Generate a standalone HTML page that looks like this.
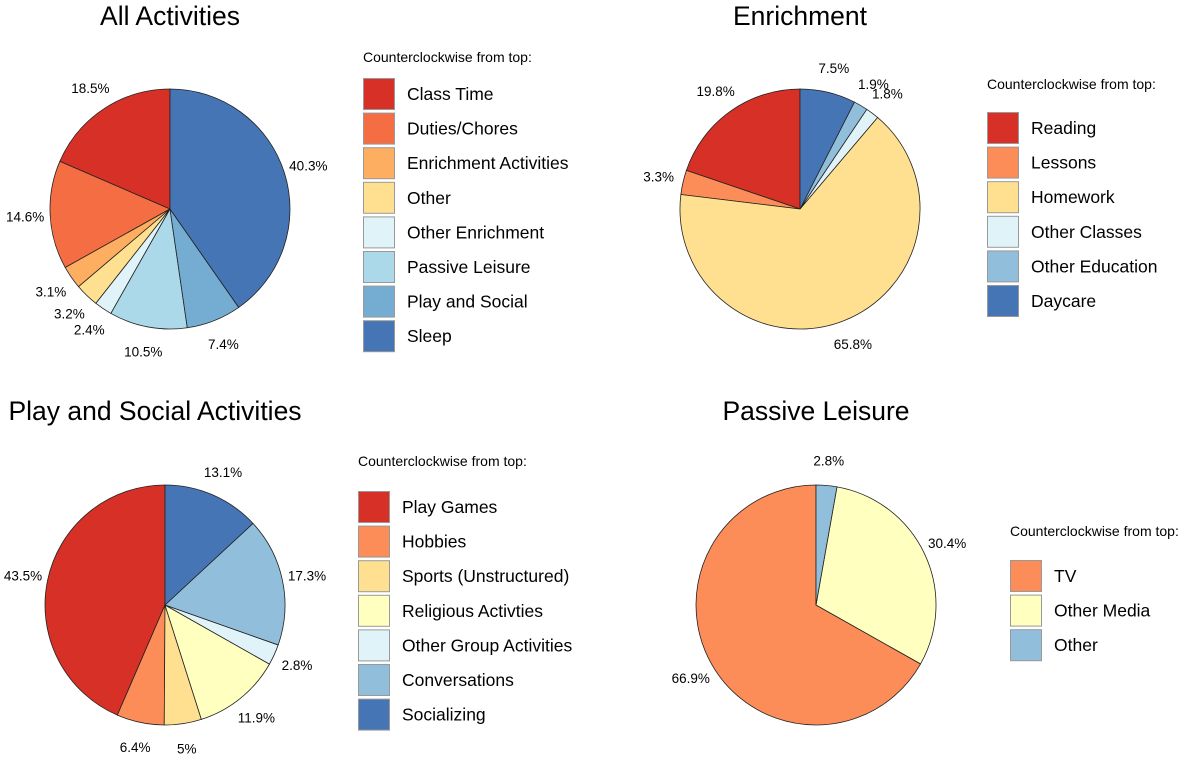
<!DOCTYPE html>
<html><head><meta charset="utf-8"><style>
body{margin:0;background:#fff;width:1194px;height:762px;overflow:hidden;font-family:"Liberation Sans",sans-serif}
svg{display:block}
</style></head><body>
<svg id="c" width="1194" height="762"></svg>
<script>
const allCats=["Class Time","Duties/Chores","Enrichment Activities","Other","Other Enrichment","Passive Leisure","Play and Social","Sleep"];
const allVals=[18.5,14.6,3.1,3.2,2.4,10.5,7.4,40.3];
const allLabels=["18.5%","14.6%","3.1%","3.2%","2.4%","10.5%","7.4%","40.3%"];
const enrCats=["Reading","Lessons","Homework","Other Classes","Other Education","Daycare"];
const enrVals=[19.8,3.3,65.8,1.8,1.9,7.5];
const enrLabels=["19.8%","3.3%","65.8%","1.8%","1.9%","7.5%"];
const playCats=["Play Games","Hobbies","Sports (Unstructured)","Religious Activties","Other Group Activities","Conversations","Socializing"];
const playVals=[43.5,6.4,5,11.9,2.8,17.3,13.1];
const playLabels=["43.5%","6.4%","5%","11.9%","2.8%","17.3%","13.1%"];
const pasCats=["TV","Other Media","Other"];
const pasVals=[66.9,30.4,2.8];
const pasLabels=["66.9%","30.4%","2.8%"];

const NS="http://www.w3.org/2000/svg";
const svg=document.getElementById('c');
function mk(t,a,p){const e=document.createElementNS(NS,t);for(const k in a)e.setAttribute(k,a[k]);(p||svg).appendChild(e);return e;}
const panels=[
 {title:"All Activities",tx:170,ty:25,cx:170,cy:209,cats:allCats,vals:allVals,labels:allLabels,
  cols:["#d73027","#f46d43","#fdae61","#fee090","#e0f3f8","#abd9e9","#74add1","#4575b4"],lx:363,ly:62,by:78},
 {title:"Enrichment",tx:800,ty:25,cx:800,cy:209,cats:enrCats,vals:enrVals,labels:enrLabels,
  cols:["#d73027","#fc8d59","#fee090","#e0f3f8","#91bfdb","#4575b4"],lx:987,ly:89,by:112},
 {title:"Play and Social Activities",tx:155,ty:420,cx:165,cy:605,cats:playCats,vals:playVals,labels:playLabels,
  cols:["#d73027","#fc8d59","#fee090","#ffffbf","#e0f3f8","#91bfdb","#4575b4"],lx:358,ly:466,by:491},
 {title:"Passive Leisure",tx:816,ty:420,cx:816,cy:605,cats:pasCats,vals:pasVals,labels:pasLabels,
  cols:["#fc8d59","#ffffbf","#91bfdb"],lx:1010,ly:536,by:560}
];
const R=120;
panels.forEach((p,pi)=>{
 const g=mk('g',{});
 
 
 const t=mk('text',{x:p.tx,y:p.ty,'text-anchor':'middle','font-size':26.5,fill:'#000'},g);
 t.textContent=p.title;
 
 
 const tot=p.vals.reduce((a,b)=>a+b,0);
 let a0=0;
 p.vals.forEach((v,i)=>{
  const a1=a0+v/tot*2*Math.PI;
  const x0=p.cx-R*Math.sin(a0),y0=p.cy-R*Math.cos(a0),x1=p.cx-R*Math.sin(a1),y1=p.cy-R*Math.cos(a1);
  const large=(a1-a0)>Math.PI?1:0;
  const s=mk('path',{d:`M${p.cx},${p.cy}L${x0},${y0}A${R},${R} 0 ${large} 0 ${x1},${y1}Z`,fill:p.cols[i],stroke:'#222','stroke-width':0.8},g);
  
  
  const m=(a0+a1)/2, lr=R+25;
  const lx=p.cx-lr*Math.sin(m), ly=p.cy-lr*Math.cos(m)+5;
  const lab=mk('text',{x:lx,y:ly,'text-anchor':'middle','font-size':13.5,fill:'#000'},g);
  lab.textContent=p.labels[i];
  
  
  a0=a1;
 });
 const h=mk('text',{x:p.lx,y:p.ly,'font-size':14,fill:'#000'},g);
 h.textContent="Counterclockwise from top:";
 
 
 p.cats.forEach((c,i)=>{
  const y=p.by+i*34.6;
  const r=mk('rect',{x:p.lx+0.5,y:y+0.5,width:31,height:31,fill:p.cols[i],stroke:'#999','stroke-width':1},g);
  
  
  const tx=mk('text',{x:p.lx+44,y:y+22,'font-size':17.5,fill:'#000'},g);
  tx.textContent=c;
  
  
 });
});
</script>
</body></html>
